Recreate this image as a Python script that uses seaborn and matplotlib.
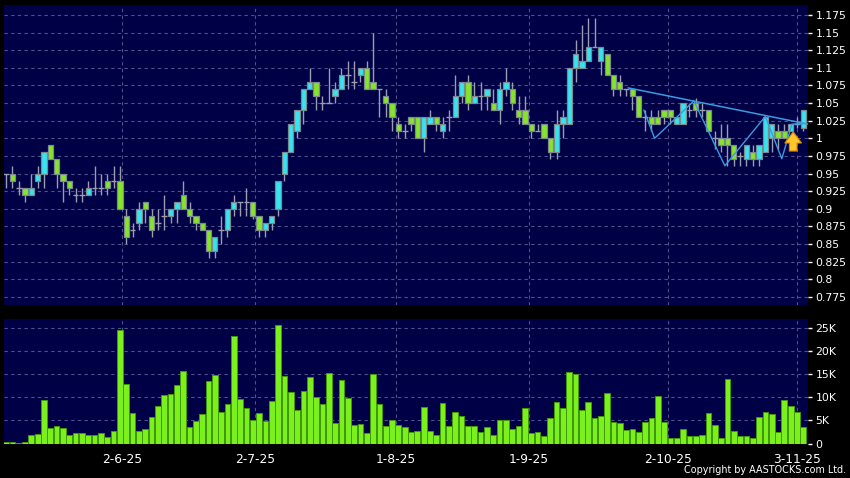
import numpy as np
import pandas as pd
import matplotlib
matplotlib.use("Agg")
import matplotlib.pyplot as plt
import seaborn as sns

# ---------------- data ----------------
opens = [0.95, 0.95, 0.93, 0.93, 0.92, 0.94, 0.95, 0.99, 0.97, 0.95,
         0.94, 0.92, 0.92, 0.92, 0.93, 0.93, 0.94, 0.94, 0.94, 0.89,
         0.87, 0.88, 0.91, 0.89, 0.88, 0.89, 0.89, 0.90, 0.92, 0.90,
         0.89, 0.88, 0.87, 0.84, 0.87, 0.87, 0.90, 0.91, 0.91, 0.91,
         0.89, 0.87, 0.88, 0.90, 0.95, 0.98, 1.01, 1.04, 1.07, 1.08,
         1.05, 1.05, 1.06, 1.07, 1.09, 1.08, 1.09, 1.10, 1.08, 1.07,
         1.06, 1.05, 1.02, 1.01, 1.03, 1.03, 1.00, 1.02, 1.03, 1.01,
         1.03, 1.03, 1.06, 1.08, 1.05, 1.06, 1.06, 1.05, 1.04, 1.07,
         1.07, 1.04, 1.04, 1.02, 1.01, 1.02, 1.00, 0.98, 1.02, 1.02,
         1.10, 1.10, 1.11, 1.13, 1.11, 1.12, 1.09, 1.08, 1.07, 1.07,
         1.06, 1.03, 1.03, 1.03, 1.04, 1.04, 1.02, 1.02, 1.04, 1.05,
         1.04, 1.04, 1.00, 1.00, 1.00, 0.99, 0.975, 0.97, 0.98, 0.97,
         0.98, 1.00, 1.01, 1.01, 1.01, 1.02, 1.015]
highs = [0.95, 0.96, 0.94, 0.93, 0.95, 0.96, 0.98, 0.99, 0.97, 0.95,
         0.94, 0.93, 0.93, 0.94, 0.96, 0.95, 0.95, 0.96, 0.96, 0.90,
         0.88, 0.91, 0.91, 0.90, 0.90, 0.92, 0.90, 0.91, 0.94, 0.91,
         0.89, 0.88, 0.87, 0.86, 0.89, 0.90, 0.92, 0.91, 0.93, 0.91,
         0.89, 0.88, 0.89, 0.94, 0.98, 1.02, 1.04, 1.07, 1.10, 1.08,
         1.06, 1.10, 1.08, 1.10, 1.11, 1.11, 1.10, 1.11, 1.15, 1.07,
         1.07, 1.05, 1.03, 1.02, 1.03, 1.03, 1.03, 1.04, 1.03, 1.03,
         1.04, 1.09, 1.08, 1.09, 1.08, 1.08, 1.07, 1.07, 1.08, 1.10,
         1.08, 1.06, 1.06, 1.02, 1.02, 1.02, 1.00, 1.04, 1.04, 1.10,
         1.14, 1.16, 1.17, 1.17, 1.13, 1.12, 1.09, 1.09, 1.07, 1.07,
         1.06, 1.04, 1.04, 1.04, 1.04, 1.04, 1.03, 1.05, 1.05, 1.057,
         1.05, 1.04, 1.01, 1.02, 1.02, 0.99, 0.98, 0.99, 0.99, 0.99,
         1.03, 1.02, 1.02, 1.02, 1.02, 1.03, 1.04]
lows = [0.93, 0.93, 0.92, 0.91, 0.92, 0.93, 0.93, 0.97, 0.93, 0.91,
        0.92, 0.91, 0.91, 0.92, 0.92, 0.92, 0.92, 0.93, 0.90, 0.85,
        0.86, 0.87, 0.88, 0.86, 0.87, 0.87, 0.88, 0.88, 0.90, 0.88,
        0.87, 0.87, 0.83, 0.83, 0.85, 0.86, 0.89, 0.89, 0.89, 0.885,
        0.86, 0.86, 0.87, 0.89, 0.94, 0.98, 1.00, 1.02, 1.07, 1.04,
        1.04, 1.05, 1.05, 1.07, 1.07, 1.07, 1.08, 1.07, 1.07, 1.03,
        1.03, 1.01, 1.00, 1.00, 1.01, 1.00, 0.98, 1.02, 1.01, 1.00,
        1.01, 1.03, 1.05, 1.04, 1.05, 1.04, 1.04, 1.04, 1.02, 1.06,
        1.04, 1.02, 1.02, 1.00, 1.01, 1.00, 0.97, 0.97, 1.00, 1.02,
        1.08, 1.10, 1.11, 1.13, 1.09, 1.09, 1.06, 1.06, 1.06, 1.04,
        1.03, 1.01, 1.01, 1.02, 1.02, 1.02, 1.02, 1.02, 1.03, 1.03,
        1.03, 1.01, 0.985, 0.98, 0.96, 0.96, 0.96, 0.96, 0.96, 0.96,
        0.98, 0.98, 0.985, 1.00, 1.01, 1.015, 1.01]
closes = [0.95, 0.94, 0.93, 0.92, 0.93, 0.95, 0.98, 0.97, 0.95, 0.94,
          0.93, 0.92, 0.92, 0.93, 0.93, 0.93, 0.93, 0.94, 0.90, 0.86,
          0.87, 0.90, 0.90, 0.87, 0.88, 0.89, 0.90, 0.91, 0.90, 0.89,
          0.88, 0.87, 0.84, 0.86, 0.87, 0.90, 0.91, 0.91, 0.91, 0.89,
          0.87, 0.88, 0.89, 0.94, 0.98, 1.02, 1.04, 1.07, 1.08, 1.06,
          1.05, 1.05, 1.07, 1.09, 1.09, 1.08, 1.10, 1.07, 1.07, 1.07,
          1.05, 1.03, 1.01, 1.01, 1.02, 1.00, 1.03, 1.03, 1.02, 1.02,
          1.03, 1.06, 1.08, 1.05, 1.06, 1.06, 1.07, 1.04, 1.07, 1.08,
          1.05, 1.03, 1.02, 1.01, 1.01, 1.00, 0.98, 1.02, 1.03, 1.10,
          1.12, 1.11, 1.13, 1.13, 1.13, 1.09, 1.07, 1.07, 1.07, 1.06,
          1.03, 1.03, 1.02, 1.02, 1.03, 1.03, 1.03, 1.05, 1.04, 1.04,
          1.04, 1.01, 1.00, 0.99, 0.99, 0.97, 0.975, 0.99, 0.97, 0.99,
          1.03, 1.02, 1.00, 1.00, 1.02, 1.02, 1.04]
volume_k = [0.4, 0.3, 0.15, 0.3, 1.9, 2.0, 9.5, 3.3, 3.8, 3.4,
            1.9, 2.3, 2.25, 1.8, 1.8, 2.2, 1.45, 2.8, 24.6, 12.9,
            6.6, 2.8, 3.05, 5.7, 8.1, 10.5, 10.8, 12.6, 15.8, 3.6,
            4.9, 6.3, 13.5, 14.75, 6.9, 8.5, 23.3, 9.7, 7.6, 5.2,
            6.6, 4.9, 9.3, 25.7, 14.6, 11.2, 7.3, 11.3, 14.4, 10.0,
            8.5, 15.2, 4.4, 13.8, 9.8, 4.1, 4.2, 2.2, 15.0, 8.6,
            3.9, 5.2, 4.1, 3.6, 2.5, 2.8, 8.0, 2.8, 1.8, 8.8,
            3.9, 6.8, 5.9, 3.7, 3.7, 2.6, 3.5, 1.8, 5.2, 5.2,
            3.1, 3.9, 7.8, 2.3, 2.5, 1.6, 5.5, 9.1, 7.6, 15.6,
            15.0, 7.2, 8.9, 5.6, 6.0, 11.0, 4.7, 4.4, 3.0, 3.1,
            2.5, 4.65, 5.6, 10.3, 4.7, 1.25, 1.3, 3.2, 1.6, 1.6,
            1.75, 6.7, 4.1, 1.25, 14.0, 2.8, 1.6, 1.6, 1.2, 5.7,
            6.8, 6.5, 2.5, 9.4, 8.2, 6.8, 3.5]
tick_labels = ["2-6-25", "2-7-25", "1-8-25", "1-9-25", "2-10-25", "3-11-25"]
tick_index = [18.3, 39.35, 61.6, 82.6, 104.65, 125.0]
price_ticks = [0.775, 0.8, 0.825, 0.85, 0.875, 0.9, 0.925, 0.95, 0.975, 1.0,
               1.025, 1.05, 1.075, 1.1, 1.125, 1.15, 1.175]
vol_ticks = [0, 5000, 10000, 15000, 20000, 25000]
vol_tick_labels = ["0", "5K", "10K", "15K", "20K", "25K"]
trend_x = [98.3, 126.8]
trend_y = [1.0715, 1.020]
zig_x = [100.8, 102.5, 108.7, 113.6, 120.0, 122.6, 124.2, 126.3]
zig_y = [1.040, 1.000, 1.053, 0.961, 1.031, 0.971, 1.020, 1.021]
arrow_x = 124.4
arrow_y = [0.978, 1.013]

# ---------------- style ----------------
sns.set_style("dark")
plt.rcParams["font.family"] = ["DejaVu Sans"]

BG = "#000046"
GRID = "#50508a"
CYAN = "#36e3f0"
GREEN = "#86e52a"
EDGE = "#7d8a8c"
WICK = "#9c9cb0"
VOL = "#7cf01c"
VOL_EDGE = "#3f9a08"
LINE = "#3b9be0"

W, H = 850, 478
fig = plt.figure(figsize=(W / 100, H / 100), dpi=100, facecolor="black")


def rect(l, t, r, b):
    return [l / W, 1 - b / H, (r - l) / W, (b - t) / H]


axp = fig.add_axes(rect(4, 5, 808, 305))
axv = fig.add_axes(rect(4, 319, 808, 443.5))

df = pd.DataFrame({"i": np.arange(len(opens)), "o": opens, "h": highs,
                   "l": lows, "c": closes, "v": np.array(volume_k) * 1000})
up = df[df.c > df.o]
dn = df[df.c < df.o]
fl = df[df.c == df.o]

for ax in (axp, axv):
    ax.set_facecolor(BG)
    for s in ax.spines.values():
        s.set_visible(False)
    ax.grid(True, color=GRID, linestyle=(0, (3, 3)), linewidth=0.8)
    ax.set_axisbelow(True)
    ax.set_xlim(-0.32, 126.74)

# candles
axp.vlines(df.i, df.l, df.h, color=WICK, lw=1, zorder=2)
axp.bar(up.i, up.c - up.o, bottom=up.o, width=0.84, color=CYAN,
        edgecolor=EDGE, linewidth=0.9, zorder=3)
axp.bar(dn.i, dn.o - dn.c, bottom=dn.c, width=0.84, color=GREEN,
        edgecolor=EDGE, linewidth=0.9, zorder=3)
axp.hlines(fl.c, fl.i - 0.45, fl.i + 0.45, color=WICK, lw=1, zorder=3)

# pattern lines
axp.plot(trend_x, trend_y, color=LINE, lw=1.1, zorder=4)
axp.plot(zig_x, zig_y, color=LINE, lw=1.0, zorder=4)
axp.annotate("", xy=(arrow_x, arrow_y[1]), xytext=(arrow_x, arrow_y[0]),
             arrowprops=dict(arrowstyle="simple,head_length=0.8,head_width=1.2,tail_width=0.55",
                             fc="#ffc62e", ec="#d08a00", lw=0.8, mutation_scale=10),
             zorder=5)

axp.set_ylim(0.7636, 1.189)
axp.set_yticks(price_ticks)
axp.set_yticklabels([f"{v:.3f}".rstrip("0").rstrip(".") for v in price_ticks])
axp.yaxis.tick_right()
axp.set_xticks(tick_index)
axp.tick_params(axis="x", length=0, labelbottom=False)
axp.tick_params(axis="y", colors="white", labelsize=7.8, length=3,
                width=1, direction="out", pad=2.5)

# volume
sns.barplot(data=df, x="i", y="v", native_scale=True, color=VOL,
            edgecolor=VOL_EDGE, linewidth=0.7, width=0.9, saturation=1,
            errorbar=None, ax=axv, zorder=3)
axv.set_xlim(-0.32, 126.74)
axv.set_ylim(0, 27000)
axv.set_yticks(vol_ticks)
axv.set_yticklabels(vol_tick_labels)
axv.yaxis.tick_right()
axv.set_xticks(tick_index)
axv.set_xticklabels(tick_labels)
axv.set_xlabel("")
axv.set_ylabel("")
axv.tick_params(axis="y", colors="white", labelsize=7.8, length=3,
                width=1, direction="out", pad=2.5)
axv.tick_params(axis="x", colors="white", labelsize=8.8, length=4,
                width=1, direction="out", pad=3)

fig.text(846 / W, 1 - 470 / H, "Copyright by AASTOCKS.com Ltd.", ha="right",
         va="center", color="white", fontsize=6.9)

fig.savefig("out.png", dpi=100, facecolor="black")
